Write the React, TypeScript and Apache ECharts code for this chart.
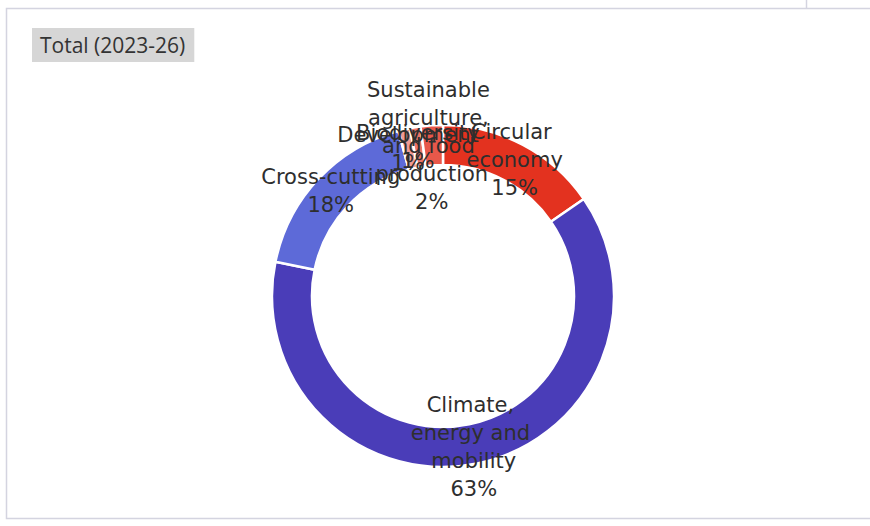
import React, { useEffect, useRef } from "react";
import * as echarts from "echarts";

const categories = [
  "Circular economy",
  "Climate, energy and mobility",
  "Cross-cutting",
  "Development",
  "Biodiversity",
  "Sustainable agriculture, and food production",
];
const shares = [15.4, 62.8, 17.6, 1.1, 1.0, 2.1];
const chartTitle = "Total (2023-26)";

const palette = ["#E3321F", "#4A3DB8", "#5D6AD8", "#F29A93", "#EC7468", "#E8584A"];

export default function App() {
  const ref = useRef<HTMLDivElement>(null);
  useEffect(() => {
    if (!ref.current) return;
    const chart = echarts.init(ref.current, undefined, { renderer: "svg" });
    const total = shares.reduce((a, b) => a + b, 0);
    const smallSlice = (i: number) => shares[i] / total < 0.05;
    chart.setOption({
      animation: false,
      backgroundColor: "#ffffff",
      title: {
        text: chartTitle,
        left: 32,
        top: 28,
        padding: [6, 9, 6, 8],
        backgroundColor: "#D6D6D6",
        textStyle: {
          fontFamily: "Open Sans",
          fontSize: 21,
          fontWeight: "normal",
          color: "#333333",
          lineHeight: 22,
        },
      },
      graphic: [
        {
          type: "rect",
          shape: { x: 6.5, y: 8.5, width: 870, height: 510 },
          style: { fill: "none", stroke: "#D4D4E0", lineWidth: 1.5 },
          silent: true,
        },
        {
          type: "line",
          shape: { x1: 806.5, y1: 0, x2: 806.5, y2: 8 },
          style: { stroke: "#D4D4E0", lineWidth: 1.5 },
          silent: true,
        },
      ],
      series: [
        {
          type: "pie",
          center: [443, 296],
          radius: [131, 171],
          startAngle: 90,
          clockwise: true,
          avoidLabelOverlap: false,
          minShowLabelAngle: 0,
          color: palette,
          itemStyle: { borderColor: "#ffffff", borderWidth: 2.5 },
          label: {
            show: true,
            position: "inside",
            formatter: (p: any) => `${p.name}\n${Math.round(p.percent)}%`,
            fontFamily: "DejaVu Sans",
            fontSize: 21,
            lineHeight: 28,
            color: "#2E2E2E",
            width: 165,
            overflow: "break",
            align: "center",
          },
          labelLine: { show: false },
          labelLayout: (params: any) => {
            if (!smallSlice(params.dataIndex)) return {};
            const r = params.rect;
            return {
              x: r.x + r.width / 2,
              y: r.y + r.height / 2,
              align: "center",
              verticalAlign: "middle",
            };
          },
          emphasis: { disabled: true },
          data: categories.map((c, i) =>
            smallSlice(i)
              ? {
                  name: c,
                  value: shares[i],
                  label: { position: "outside", align: "center" },
                  labelLine: { show: false },
                }
              : { name: c, value: shares[i] }
          ),
        },
      ],
    });
    return () => chart.dispose();
  }, []);
  return (
    <div
      ref={ref}
      style={{ position: "fixed", left: 0, top: 0, width: 870, height: 526 }}
    />
  );
}
